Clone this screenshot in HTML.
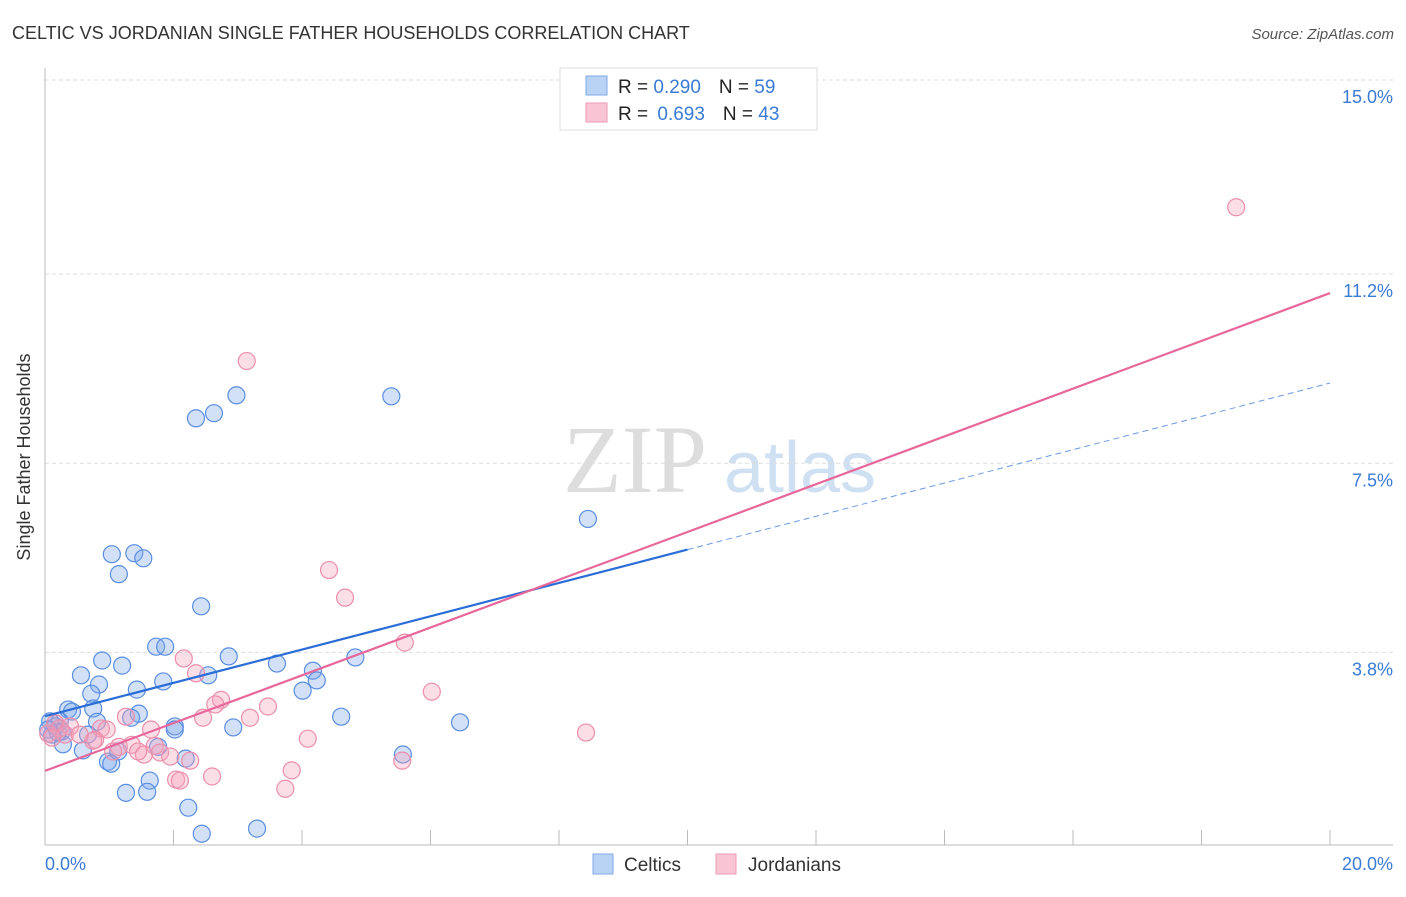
<!DOCTYPE html>
<html><head><meta charset="utf-8"><style>
body{margin:0;background:#fff;font-family:"Liberation Sans",sans-serif}
</style></head><body>
<svg width="1406" height="892" xmlns="http://www.w3.org/2000/svg" font-family="Liberation Sans, sans-serif">
<text x="12" y="39" font-size="18" fill="#333">CELTIC VS JORDANIAN SINGLE FATHER HOUSEHOLDS CORRELATION CHART</text>
<text x="1394" y="39" font-size="15" fill="#555" font-style="italic" text-anchor="end">Source: ZipAtlas.com</text>
<g><text x="635" y="492" font-size="96" fill="#ddd" font-family="Liberation Serif, serif" text-anchor="middle">ZIP</text><text x="800" y="492" font-size="72" fill="#cfe0f3" text-anchor="middle">atlas</text></g>
<g id="grid"></g>
<g id="axes"></g>
<g id="marks"></g>
<text x="30" y="457" font-size="18" fill="#333" transform="rotate(-90 30 457)" text-anchor="middle">Single Father Households</text>
<text x="45" y="870" font-size="18" fill="#3a7bd5">0.0%</text>
<text x="1393" y="870" font-size="18" fill="#3a7bd5" text-anchor="end">20.0%</text>
<g>
<rect x="560" y="68" width="257" height="62" fill="#fff" stroke="#ddd"/>
<rect x="586" y="76" width="21" height="19" fill="#b9d3f5" stroke="#7ea9e6"/>
<rect x="586" y="103" width="21" height="19" fill="#f9c5d4" stroke="#ee9ab4"/>
<text x="618" y="93" font-size="19" fill="#222">R = <tspan fill="#3a7bd5">0.290</tspan><tspan dx="18">N = </tspan><tspan fill="#3a7bd5">59</tspan></text>
<text x="618" y="120" font-size="19" fill="#222">R = <tspan dx="4" fill="#3a7bd5">0.693</tspan><tspan dx="18">N = </tspan><tspan fill="#3a7bd5">43</tspan></text>
</g>
<g>
<rect x="593" y="854" width="20" height="20" fill="#b9d3f5" stroke="#7ea9e6"/>
<text x="624" y="871" font-size="19" fill="#333">Celtics</text>
<rect x="716" y="854" width="20" height="20" fill="#f9c5d4" stroke="#ee9ab4"/>
<text x="748" y="871" font-size="19" fill="#333">Jordanians</text>
</g>
</svg>
<script>
const yTicks=[15.0,11.2,7.5,3.8];
const yTickLabels=["15.0%","11.2%","7.5%","3.8%"];
const xTicks=[0,2,4,6,8,10,12,14,16,18,20];
const celticsX=[2.98,2.63,2.35,5.39,8.45,1.04,1.39,1.53,1.15,2.43,1.73,1.87,2.86,0.89,3.61,4.83,1.20,0.56,4.17,4.23,2.54,1.84,0.84,1.43,0.72,4.01,0.36,0.42,0.75,1.46,1.34,4.61,0.81,2.02,2.02,2.93,6.46,0.23,0.08,0.16,0.26,0.59,0.28,5.57,0.98,1.03,2.19,1.14,1.63,1.59,1.26,2.23,2.44,3.30,0.11,0.20,0.05,1.76,0.67];
const celticsY=[8.83,8.48,8.38,8.81,6.41,5.72,5.74,5.64,5.33,4.70,3.91,3.91,3.72,3.64,3.58,3.70,3.54,3.35,3.44,3.25,3.35,3.23,3.17,3.07,2.99,3.05,2.68,2.64,2.70,2.60,2.52,2.54,2.44,2.35,2.29,2.33,2.43,2.45,2.45,2.35,2.25,1.88,2.00,1.80,1.66,1.62,1.72,1.86,1.29,1.07,1.05,0.76,0.25,0.35,2.19,2.23,2.29,1.95,2.19];
const jordX=[18.54,3.14,4.42,4.67,5.60,2.16,2.35,6.02,2.74,2.65,3.47,1.26,2.46,3.19,0.87,0.96,1.65,8.42,0.78,0.75,4.09,1.15,1.35,1.71,1.79,1.54,1.45,1.95,2.26,3.84,5.56,2.60,2.04,2.10,3.74,0.16,0.05,0.23,0.39,0.31,0.11,1.06,0.54];
const jordY=[12.51,9.50,5.41,4.87,3.99,3.68,3.39,3.03,2.87,2.78,2.74,2.54,2.52,2.52,2.31,2.29,2.29,2.23,2.09,2.07,2.11,1.95,1.99,1.97,1.84,1.80,1.86,1.76,1.68,1.49,1.68,1.37,1.31,1.29,1.13,2.41,2.21,2.31,2.35,2.19,2.13,1.86,2.19];
const celticTrend=[2.55,9.07];
const jordTrend=[1.48,10.83];
const NS="http://www.w3.org/2000/svg";
const X0=45,X1=1330,Y15=80,PPY=51.1;
function xs(v){return X0+(v/20)*(X1-X0);}
function ys(v){return Y15+(15-v)*PPY;}
function mk(t,a,p){const e=document.createElementNS(NS,t);for(const k in a)e.setAttribute(k,a[k]);p.appendChild(e);return e;}
const grid=document.getElementById('grid'),axes=document.getElementById('axes'),marks=document.getElementById('marks');
yTicks.forEach((v,i)=>{
 const l=mk('line',{x1:45,x2:1393,y1:ys(v),y2:ys(v),stroke:'#ddd','stroke-dasharray':'4,3'},grid);
 
 
 const t=mk('text',{x:1393,y:ys(v)+23,'font-size':18,fill:'#3a7bd5','text-anchor':'end'},grid);
 t.textContent=yTickLabels[i];
 
 
});
const ax=mk('line',{x1:45,x2:45,y1:68,y2:845,stroke:'#bbb'},axes);


const bx=mk('line',{x1:45,x2:1393,y1:845,y2:845,stroke:'#bbb'},axes);


xTicks.forEach(v=>{
 const l=mk('line',{x1:xs(v),x2:xs(v),y1:830,y2:845,stroke:'#bbb'},axes);
 
 
});
function pts(X,Y,fill,stroke,name){
 X.forEach((x,i)=>{
  const c=mk('circle',{cx:xs(x),cy:ys(Y[i]),r:8.5,fill:fill,stroke:stroke,'stroke-width':1.2},marks);
  
  
 });
}
pts(celticsX,celticsY,'rgba(125,170,235,0.35)','#5a8ee0','celtics-point');
pts(jordX,jordY,'rgba(245,160,185,0.35)','#eb8fab','jordanians-point');
const bSolid=mk('line',{x1:xs(0),y1:ys(celticTrend[0]),x2:xs(10),y2:ys((celticTrend[0]+celticTrend[1])/2),stroke:'#2a6dd6','stroke-width':2.2},marks);


const bDash=mk('line',{x1:xs(10),y1:ys((celticTrend[0]+celticTrend[1])/2),x2:xs(20),y2:ys(celticTrend[1]),stroke:'#6a9ae0','stroke-width':1,'stroke-dasharray':'6,4'},marks);


const pl=mk('line',{x1:xs(0),y1:ys(jordTrend[0]),x2:xs(20),y2:ys(jordTrend[1]),stroke:'#e8679a','stroke-width':2.2},marks);


</script>
</body></html>
